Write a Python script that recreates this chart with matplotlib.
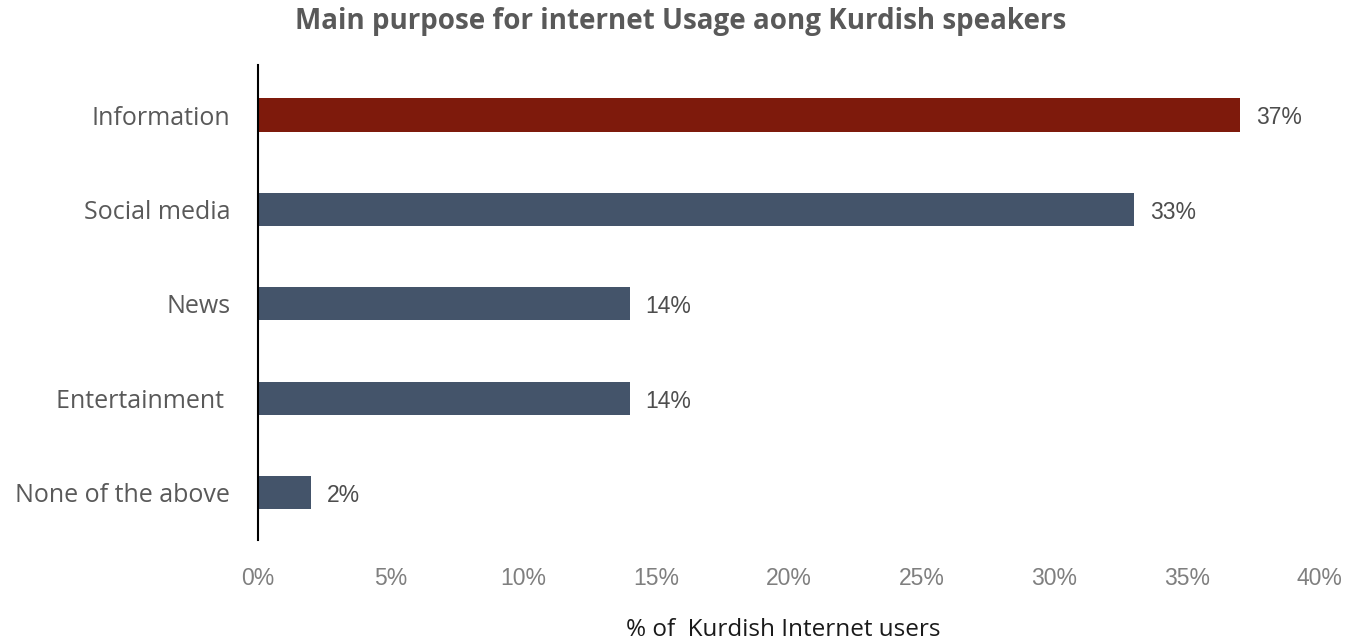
import matplotlib
matplotlib.use("Agg")
import matplotlib.pyplot as plt

# Survey data
categories = ["Information", "Social media", "News", "Entertainment ", "None of the above"]
shares = [37, 33, 14, 14, 2]
bar_colors = ["#7E1A0C", "#44546A", "#44546A", "#44546A", "#44546A"]
xticks = [0, 5, 10, 15, 20, 25, 30, 35, 40]

fig = plt.figure(figsize=(13.48, 6.43), dpi=100)
ax = fig.add_axes([0.1914, 0.160, 0.7875, 0.739])

ypos = range(len(categories))
ax.barh(ypos, shares, height=0.35, color=bar_colors)
ax.set_ylim(len(categories) - 0.5, -0.53)
ax.set_xlim(0, 40)

for y, v in zip(ypos, shares):
    ax.text(v + 0.6, y + 0.03, f"{v}%", va="center", ha="left",
            fontsize=16.5, color="#4d4d4d", family="Liberation Sans")

ax.set_yticks(list(ypos))
ax.set_yticklabels(categories, fontsize=18, color="#595959", family="Open Sans")
ax.set_xticks(xticks)
ax.set_xticklabels([f"{t}%" for t in xticks], fontsize=16.5, color="#7F7F7F",
                   family="Liberation Sans")
ax.tick_params(axis="both", length=0)
ax.tick_params(axis="y", pad=20)
ax.tick_params(axis="x", pad=19)

for s in ["top", "right", "bottom"]:
    ax.spines[s].set_visible(False)
ax.spines["left"].set_linewidth(1.5)
ax.spines["left"].set_color("black")

fig.text(0.581, 1 - 630 / 643, "% of  Kurdish Internet users", ha="center",
         va="center", fontsize=17.5, color="#1a1a1a", family="Open Sans")
fig.text(0.505, 1 - 22 / 643, "Main purpose for internet Usage aong Kurdish speakers",
         ha="center", va="center", fontsize=20, fontweight="bold",
         color="#595959", family="Open Sans")

fig.savefig("out.png", dpi=100)
